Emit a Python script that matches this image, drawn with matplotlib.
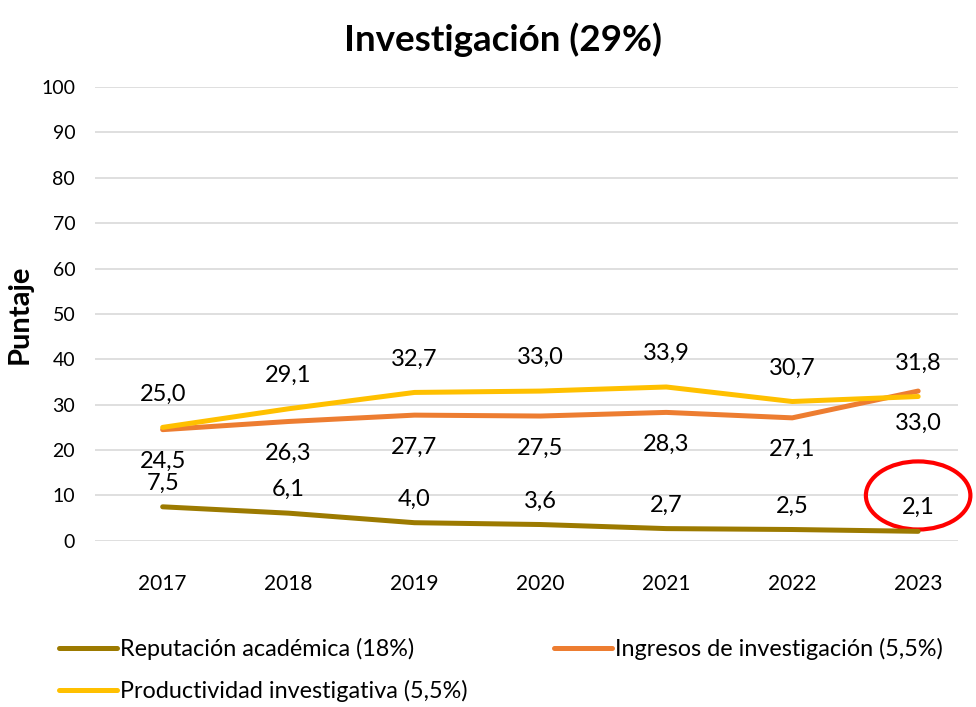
import matplotlib
matplotlib.use("Agg")
from matplotlib import pyplot as plt
from matplotlib.patches import Ellipse

plt.rcParams['font.family'] = ['Lato', 'DejaVu Sans']

years = ['2017', '2018', '2019', '2020', '2021', '2022', '2023']
reputacion = [7.5, 6.1, 4.0, 3.6, 2.7, 2.5, 2.1]
ingresos = [24.5, 26.3, 27.7, 27.5, 28.3, 27.1, 33.0]
productividad = [25.0, 29.1, 32.7, 33.0, 33.9, 30.7, 31.8]

names = ['Reputación académica (18%)', 'Ingresos de investigación (5,5%)',
         'Productividad investigativa (5,5%)']
colors = ['#9C7A00', '#ED7D31', '#FFC000']

fig = plt.figure(figsize=(9.76, 7.07), dpi=100)
ax = fig.add_axes([0.097, 0.235, 0.885, 0.642])

x = range(len(years))
l_rep, = ax.plot(x, reputacion, color=colors[0], lw=3.6, solid_capstyle='round')
l_ing, = ax.plot(x, ingresos, color=colors[1], lw=3.6, solid_capstyle='round')
l_pro, = ax.plot(x, productividad, color=colors[2], lw=3.6, solid_capstyle='round')

def fmt(v):
    return f'{v:.1f}'.replace('.', ',')

# data labels: offsets in points per series
for vals, dy in [(reputacion, 17), (ingresos, -23), (productividad, 24)]:
    for i, v in enumerate(vals):
        ax.annotate(fmt(v), (i, v), xytext=(0, dy), textcoords='offset points',
                    ha='center', va='center', fontsize=17, color='black')

# red circle around the 2023 reputation label
ax.add_patch(Ellipse((6, 10.0), 0.83, 15.0, fill=False, edgecolor='#FF0000',
                     lw=3, clip_on=False))

ax.set_ylim(0, 100)
ax.set_xlim(-0.54, 6.32)
ax.set_yticks(range(0, 101, 10))
ax.set_xticks(list(x))
ax.set_xticklabels(years)
ax.tick_params(axis='x', length=0, labelsize=15, pad=24)
ax.tick_params(axis='y', length=0, labelsize=14, pad=14)
ax.grid(axis='y', color='#D9D9D9', lw=1.2)
ax.set_axisbelow(True)
for s in ax.spines.values():
    s.set_visible(False)

ax.set_ylabel('Puntaje', fontsize=21, fontweight='bold', labelpad=6)
fig.suptitle('Investigación (29%)', fontsize=26.5, fontweight='bold',
             x=0.515, y=0.968)

fig.legend([l_rep, l_pro, l_ing], [names[0], names[2], names[1]], ncol=2,
           loc='upper left', bbox_to_anchor=(0.051, 0.111), frameon=False,
           fontsize=16.8, handlelength=2.5, handletextpad=0.12,
           columnspacing=3.7, labelspacing=0.85, borderaxespad=0)

fig.savefig('out.png', dpi=100)
